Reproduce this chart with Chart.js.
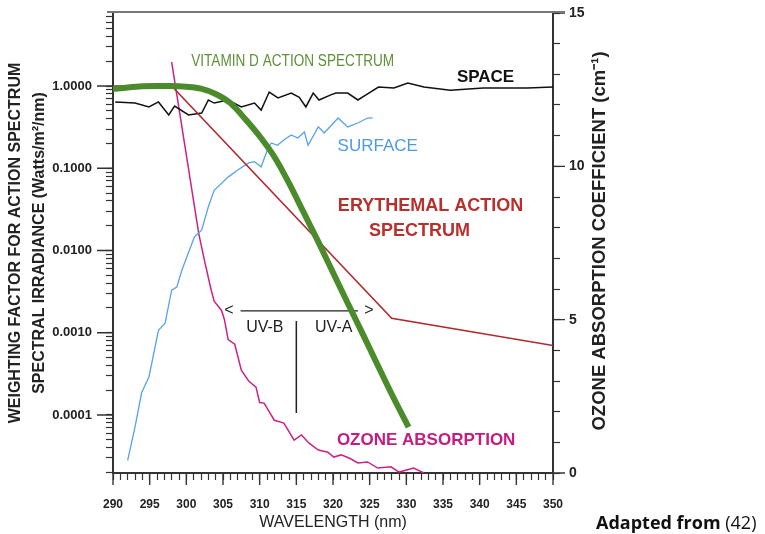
<!DOCTYPE html>
<html lang="en">
<head>
  <meta charset="UTF-8" />
  <title>UV spectra</title>
  <script src="https://cdn.jsdelivr.net/npm/chart.js"></script>
  <style>
    html, body { margin: 0; padding: 0; background: #fff; }
    #wrap { position: relative; width: 765px; height: 534px; }
    #note { position: absolute; left: 596px; top: 510px; font-family: "Open Sans", Lato, sans-serif; font-size: 18px; color: #111; }
  </style>
</head>
<body>
<div id="wrap">
  <canvas id="uvChart" width="765" height="534"></canvas>
  <div id="note"><b>Adapted from</b> (42)</div>
</div>
<script>
  // values (wavelength in nm)
  const vitDWave  = [290, 292, 294, 296, 298, 300, 302, 304, 306, 308, 310, 312, 314, 316, 318, 320, 322, 324, 326, 328, 330.3];
  const vitDValue = [0.92, 0.96, 0.99, 1.0, 1.0, 0.98, 0.93, 0.8, 0.62, 0.4, 0.245, 0.138, 0.066, 0.029, 0.0127, 0.0054, 0.0023, 0.00099, 0.00042, 0.00018, 0.000071];

  const spaceWave  = [290.3, 293, 294.9, 296.2, 297.6, 298.4, 300.3, 302.1, 303, 303.8, 305.7, 307.5, 309.3, 310.2, 311.3, 312.5, 314.3, 315.4, 316.3, 317.3, 318.1, 319.7, 320.4, 322, 323.4, 324.5, 326.2, 328.3, 330.2, 332.4, 336, 340.5, 343.2, 346.5, 350];
  const spaceValue = [0.64, 0.62, 0.556, 0.64, 0.444, 0.57, 0.444, 0.47, 0.676, 0.62, 0.676, 0.556, 0.62, 0.51, 0.845, 0.715, 0.82, 0.73, 0.556, 0.82, 0.676, 0.78, 0.82, 0.82, 0.676, 0.78, 0.97, 0.945, 1.087, 0.97, 0.89, 0.945, 0.945, 0.945, 0.97];

  const surfWave  = [292.0, 293.0, 293.9, 294.9, 296.2, 297.1, 298.0, 298.7, 299.4, 299.8, 301.1, 302.1, 303.0, 303.8, 305.7, 307.0, 308.5, 309.3, 310.2, 311.2, 311.6, 312.4, 313.3, 314.3, 315.2, 316.1, 316.6, 318.0, 318.8, 320.7, 322.0, 323.4, 324.7, 325.4];
  const surfValue = [2.8e-5, 7.1e-5, 1.86e-4, 2.9e-4, 1.07e-3, 1.31e-3, 3.3e-3, 3.6e-3, 5.8e-3, 7.2e-3, 0.0146, 0.0178, 0.034, 0.054, 0.078, 0.095, 0.116, 0.12, 0.104, 0.181, 0.203, 0.19, 0.22, 0.254, 0.233, 0.276, 0.19, 0.318, 0.268, 0.408, 0.318, 0.355, 0.408, 0.41];

  const eryWave  = [290, 298, 328, 350];
  const eryValue = [1, 1, 0.0015, 0.0007];

  const ozoneWave  = [298.0, 301.7, 302.5, 303.4, 303.8, 304.8, 305.2, 305.7, 306.6, 307.5, 308.5, 309.5, 310.0, 310.6, 312.0, 313.3, 314.7, 315.7, 316.7, 318.0, 319.3, 320.1, 321.1, 322.2, 323.4, 324.7, 326.1, 327.9, 329.0, 331.0, 332.4];
  const ozoneValue = [13.4, 7.8, 6.9, 5.95, 5.6, 5.3, 5.0, 4.35, 4.2, 3.35, 3.0, 2.8, 2.3, 2.28, 1.72, 1.63, 1.07, 1.24, 0.98, 0.75, 0.68, 0.52, 0.59, 0.49, 0.33, 0.36, 0.16, 0.2, 0.03, 0.16, 0.0];

  // UV-B / UV-A marker
  const arrowWave  = [307.4, 323.4];
  const arrowValue = [0.00184, 0.00184];
  const splitWave  = [315, 315];
  const splitValue = [0.00139, 0.000106];

  // axis ticks
  const xTickValues = [290, 295, 300, 305, 310, 315, 320, 325, 330, 335, 340, 345, 350];
  const yDecades = [1, 0.1, 0.01, 0.001, 0.0001];
  const ozoneTickValues = [0, 5, 10, 15];

  const sans = '"Liberation Sans", Arial, sans-serif';

  // text written inside the plot, placed in data units
  const notes = [
    { text: 'VITAMIN D ACTION SPECTRUM', x: 314.5, y: 1.96, color: '#5e9138', font: '16px ' + sans, sx: 0.85 },
    { text: 'SPACE', x: 340.8, y: 1.29, color: '#111', font: 'bold 17px ' + sans, sx: 1 },
    { text: 'SURFACE', x: 326.1, y: 0.187, color: '#4f9be2', font: '17px ' + sans, sx: 1 },
    { text: 'ERYTHEMAL ACTION', x: 333.3, y: 0.0348, color: '#b8302c', font: 'bold 18px ' + sans, sx: 1 },
    { text: 'SPECTRUM', x: 331.8, y: 0.0173, color: '#b8302c', font: 'bold 18px ' + sans, sx: 1 },
    { text: 'OZONE ABSORPTION', x: 332.7, y: 4.97e-5, color: '#c41c80', font: 'bold 17px ' + sans, sx: 1 },
    { text: 'UV-B', x: 310.7, y: 0.00114, color: '#222', font: '16px ' + sans, sx: 1 },
    { text: 'UV-A', x: 320.1, y: 0.00114, color: '#222', font: '16px ' + sans, sx: 1 },
    { text: '<', x: 305.8, y: 0.00184, color: '#222', font: '16px ' + sans, sx: 1 },
    { text: '>', x: 324.9, y: 0.00184, color: '#222', font: '16px ' + sans, sx: 1 }
  ];

  function pts(w, v) {
    return w.map((x, i) => ({ x: x, y: v[i] }));
  }

  function series(label, w, v, color, width, axis, extra) {
    return Object.assign({
      label: label,
      data: pts(w, v),
      borderColor: color,
      borderWidth: width,
      pointRadius: 0,
      fill: false,
      yAxisID: axis
    }, extra || {});
  }

  // keep the plot box where the layout padding puts it
  function noEdgePad(s) {
    s.paddingTop = 0;
    s.paddingBottom = 0;
    s.paddingLeft = 0;
    s.paddingRight = 0;
  }

  const extras = {
    id: 'extras',
    afterDatasetsDraw(chart) {
      const { ctx, scales } = chart;
      notes.forEach(n => {
        ctx.save();
        ctx.textAlign = 'center';
        ctx.textBaseline = 'middle';
        ctx.font = n.font;
        ctx.fillStyle = n.color;
        ctx.translate(scales.x.getPixelForValue(n.x), scales.y.getPixelForValue(n.y));
        ctx.scale(n.sx, 1);
        ctx.fillText(n.text, 0, 0);
        ctx.restore();
      });
    },
    afterDraw(chart) {
      const { ctx, chartArea: a, scales: { x, y, y2 } } = chart;
      ctx.save();
      ctx.strokeStyle = '#333';
      ctx.lineWidth = 1.4;
      ctx.beginPath();
      x.ticks.forEach(t => {
        if (t.isMajor) { const p = x.getPixelForValue(t.value); ctx.moveTo(p, a.bottom); ctx.lineTo(p, a.bottom + 12); }
      });
      y.ticks.forEach(t => {
        if (t.isMajor) { const p = y.getPixelForValue(t.value); ctx.moveTo(a.left, p); ctx.lineTo(a.left - 16, p); }
      });
      y2.ticks.forEach(t => {
        if (t.isMajor) { const p = y2.getPixelForValue(t.value); ctx.moveTo(a.right, p); ctx.lineTo(a.right + 12, p); }
      });
      // axis lines run a little past the bottom axis
      ctx.moveTo(a.left, a.bottom); ctx.lineTo(a.left, a.bottom + 6);
      ctx.moveTo(a.right, a.bottom); ctx.lineTo(a.right, a.bottom + 7);
      ctx.stroke();
      // top frame line
      ctx.strokeStyle = '#777';
      ctx.lineWidth = 2;
      ctx.beginPath();
      ctx.moveTo(a.left - 6, a.top - 1);
      ctx.lineTo(a.right + 12, a.top - 1);
      ctx.stroke();
      // right axis title, reading upwards like the left one
      ctx.translate(600, (a.top + a.bottom) / 2 - 2);
      ctx.rotate(-Math.PI / 2);
      ctx.font = 'bold 18.5px ' + sans;
      ctx.fillStyle = '#222';
      ctx.textAlign = 'center';
      ctx.textBaseline = 'middle';
      ctx.fillText('OZONE ABSORPTION COEFFICIENT (cm\u207B\u00B9)', 0, 0);
      ctx.restore();
    }
  };

  new Chart(document.getElementById('uvChart'), {
    type: 'line',
    data: {
      datasets: [
        series('Vitamin D action spectrum', vitDWave, vitDValue, '#4b8b2b', 6, 'y', { cubicInterpolationMode: 'monotone' }),
        series('Erythemal action spectrum', eryWave, eryValue, '#b02a2e', 1.6, 'y'),
        series('Space', spaceWave, spaceValue, '#111', 1.5, 'y'),
        series('Surface', surfWave, surfValue, '#5aa2e8', 1.3, 'y'),
        series('Ozone absorption', ozoneWave, ozoneValue, '#cc2288', 1.5, 'y2'),
        series('UV range', arrowWave, arrowValue, '#222', 1.3, 'y'),
        series('UV split', splitWave, splitValue, '#222', 1.5, 'y')
      ]
    },
    options: {
      responsive: false,
      animation: false,
      devicePixelRatio: 1,
      layout: { padding: { top: 13, left: 0, right: 0, bottom: 0 } },
      plugins: { legend: { display: false }, tooltip: { enabled: false } },
      scales: {
        x: {
          type: 'linear',
          bounds: 'data',
          min: 290,
          max: 350,
          afterBuildTicks: s => {
            const t = [];
            for (let v = 290; v <= 350; v++) t.push({ value: v, isMajor: xTickValues.includes(v) });
            s.ticks = t;
          },
          afterFit: s => { s.height = 61; noEdgePad(s); },
          ticks: {
            autoSkip: false,
            maxRotation: 0,
            padding: 17,
            color: '#222',
            font: { family: sans, size: 12, weight: 'bold' },
            callback: (v, i, t) => t[i].isMajor ? String(v) : ''
          },
          grid: { drawOnChartArea: false, tickLength: 7, tickColor: '#333', tickWidth: 1.2 },
          border: { color: '#333', width: 2 },
          title: {
            display: true,
            text: 'WAVELENGTH (nm)',
            color: '#222',
            font: { family: sans, size: 16, lineHeight: 1.2 },
            padding: { top: 0, bottom: 2 }
          }
        },
        y: {
          type: 'logarithmic',
          position: 'left',
          bounds: 'data',
          min: 1.97e-5,
          max: 7.72,
          afterBuildTicks: s => {
            const t = [];
            for (let e = -5; e <= 0; e++) {
              for (let m = 1; m <= 9; m++) {
                const v = m * Math.pow(10, e);
                if (v >= s.min && v <= s.max) t.push({ value: v, isMajor: m === 1 && yDecades.includes(Math.pow(10, e)) });
              }
            }
            s.ticks = t;
          },
          afterFit: s => { s.width = 113; noEdgePad(s); },
          ticks: {
            autoSkip: false,
            padding: 14,
            color: '#222',
            font: { family: sans, size: 13, weight: 'bold' },
            callback: (v, i, t) => t[i].isMajor ? v.toFixed(4) : ''
          },
          grid: { drawOnChartArea: false, tickLength: 7, tickColor: '#333', tickWidth: 1.2 },
          border: { color: '#333', width: 2 },
          title: {
            display: true,
            text: ['WEIGHTING FACTOR FOR ACTION SPECTRUM', 'SPECTRAL IRRADIANCE (Watts/m\u00B2/nm)'],
            color: '#222',
            font: { family: sans, size: 16, weight: 'bold', lineHeight: 1.5 },
            padding: { top: 4, bottom: 0 }
          }
        },
        y2: {
          type: 'linear',
          position: 'right',
          bounds: 'data',
          min: 0,
          max: 15,
          afterBuildTicks: s => {
            const t = [];
            for (let v = 0; v <= 15; v++) t.push({ value: v, isMajor: ozoneTickValues.includes(v) });
            s.ticks = t;
          },
          afterFit: s => { s.width = 212; noEdgePad(s); },
          ticks: {
            autoSkip: false,
            padding: 9,
            color: '#222',
            font: { family: sans, size: 14, weight: 'bold' },
            callback: (v, i, t) => t[i].isMajor ? String(v) : ''
          },
          grid: { drawOnChartArea: false, tickLength: 7, tickColor: '#333', tickWidth: 1.2 },
          border: { color: '#333', width: 2 }
        }
      }
    },
    plugins: [extras]
  });
</script>
</body>
</html>
